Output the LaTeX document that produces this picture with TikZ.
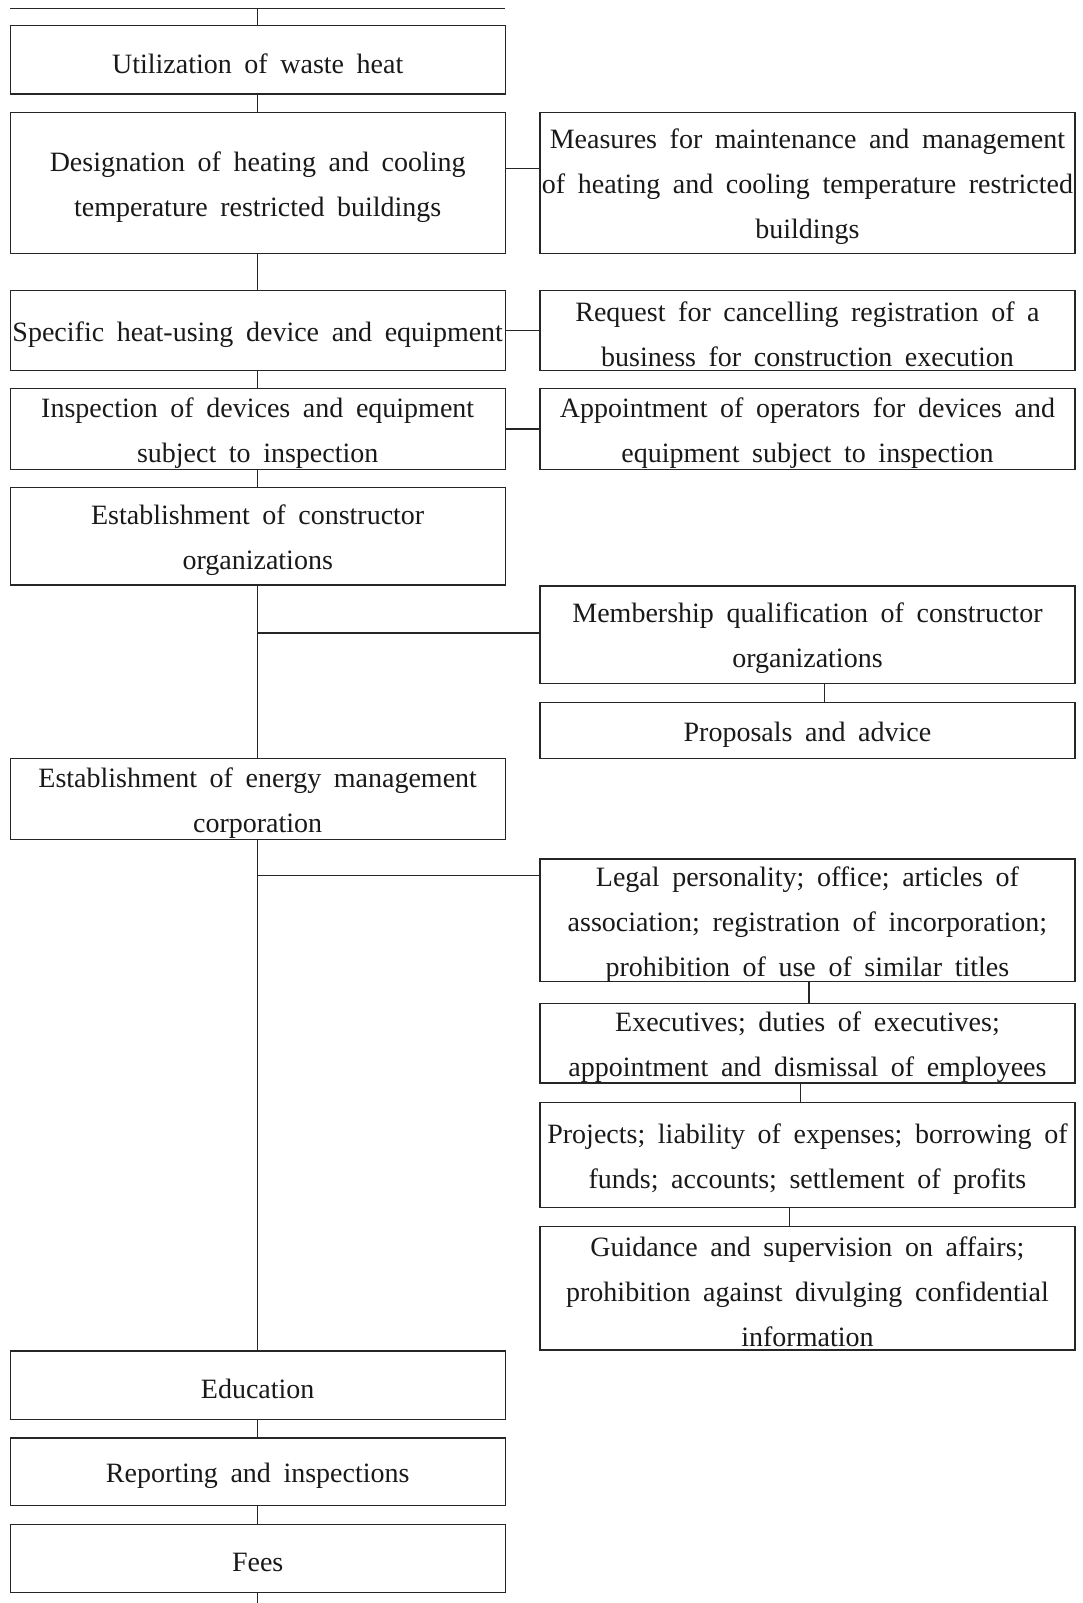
\documentclass[tikz,border=0pt]{standalone}
\usepackage{fontspec}
\setmainfont[WordSpace=1.8]{Liberation Serif}
\begin{document}
\begin{tikzpicture}[x=1pt,y=-1pt,
  box/.style={draw=black!85,line width=1.3pt,inner sep=0pt},
  lab/.style={align=center,inner sep=0pt,yshift=-4pt,
    font=\fontsize{28}{45}\selectfont,text=black!90},
  lbox/.style={box,minimum width=495pt},
  rbox/.style={box,minimum width=535pt},
  conn/.style={draw=black!85,line width=1.1pt}]
\useasboundingbox (0,0) rectangle (1082,1603);
% left column
\node[lbox,minimum height=68.5pt,label={[lab]center:{Utilization of waste heat}}] (util) at (257.7,59.85) {};
\node[lbox,minimum height=141.1pt,label={[lab]center:{Designation of heating and cooling\\temperature restricted buildings}}] (desig) at (257.7,183.05) {};
\node[lbox,minimum height=79.8pt,label={[lab]center:{Specific heat-using device and equipment}}] (spec) at (257.7,330.3) {};
\node[lbox,minimum height=80.8pt,label={[lab]center:{Inspection of devices and equipment\\subject to inspection}}] (insp) at (257.7,429) {};
\node[lbox,minimum height=97.2pt,label={[lab]center:{Establishment of constructor\\organizations}}] (constr) at (257.7,536.4) {};
\node[lbox,minimum height=80.8pt,label={[lab]center:{Establishment of energy management\\corporation}}] (energy) at (257.7,799.2) {};
\node[lbox,minimum height=68.5pt,label={[lab]center:{Education}}] (educ) at (257.7,1385.25) {};
\node[lbox,minimum height=67.5pt,label={[lab]center:{Reporting and inspections}}] (rep) at (257.7,1471.65) {};
\node[lbox,minimum height=67.5pt,label={[lab]center:{Fees}}] (fees) at (257.7,1558.55) {};
% right column
\node[rbox,minimum height=141.1pt,label={[lab]center:{Measures for maintenance and management\\of heating and cooling temperature restricted\\buildings}}] (meas) at (807.45,183.05) {};
\node[rbox,minimum height=79.8pt,label={[lab]center:{Request for cancelling registration of a\\business for construction execution}}] (req) at (807.45,330.3) {};
\node[rbox,minimum height=80.8pt,label={[lab]center:{Appointment of operators for devices and\\equipment subject to inspection}}] (appt) at (807.45,429) {};
\node[rbox,minimum height=97.2pt,label={[lab]center:{Membership qualification of constructor\\organizations}}] (memb) at (807.45,634.6) {};
\node[rbox,minimum height=56.2pt,label={[lab]center:{Proposals and advice}}] (prop) at (807.45,730.7) {};
\node[rbox,minimum height=122.8pt,label={[lab]center:{Legal personality; office; articles of\\association; registration of incorporation;\\prohibition of use of similar titles}}] (legal) at (807.45,920.4) {};
\node[rbox,minimum height=79.7pt,label={[lab]center:{Executives; duties of executives;\\appointment and dismissal of employees}}] (exec) at (807.45,1043.15) {};
\node[rbox,minimum height=105.3pt,label={[lab]center:{Projects; liability of expenses; borrowing of\\funds; accounts; settlement of profits}}] (proj) at (807.45,1155.15) {};
\node[rbox,minimum height=123.8pt,label={[lab]center:{Guidance and supervision on affairs;\\prohibition against divulging confidential\\information}}] (guid) at (807.45,1288.1) {};
% free ends
\coordinate (tl) at (10.2,8.2);
\coordinate (tr) at (505.2,8.2);
\coordinate (ttop) at (257.7,8.2);
\coordinate (bot) at (257.7,1603);
\coordinate (jm) at (257.7,633);
\coordinate (jl) at (257.7,875.4);
\coordinate (dm) at (505.2,168.7);
% connectors
\draw[conn] (tl) -- (tr);
\draw[conn] (ttop) -- (util.north);
\draw[conn] (util.south) -- (desig.north);
\draw[conn] (desig.south) -- (spec.north);
\draw[conn] (spec.south) -- (insp.north);
\draw[conn] (insp.south) -- (constr.north);
\draw[conn] (constr.south) -- (energy.north);
\draw[conn] (jm) -- (jm -| memb.west);
\draw[conn] (energy.south) -- (educ.north);
\draw[conn] (jl) -- (jl -| legal.west);
\draw[conn] (educ.south) -- (rep.north);
\draw[conn] (rep.south) -- (fees.north);
\draw[conn] (fees.south) -- (bot);
\draw[conn] (dm) -- (dm -| meas.west);
\draw[conn] (spec.east) -- (req.west);
\draw[conn] (insp.east) -- (appt.west);
\draw[conn] ([xshift=16.85pt]memb.south) -- ([xshift=16.85pt]prop.north);
\draw[conn] ([xshift=1.55pt]legal.south) -- ([xshift=1.55pt]exec.north);
\draw[conn] ([xshift=-6.65pt]exec.south) -- ([xshift=-6.65pt]proj.north);
\draw[conn] ([xshift=-17.95pt]proj.south) -- ([xshift=-17.95pt]guid.north);
\end{tikzpicture}
\end{document}
